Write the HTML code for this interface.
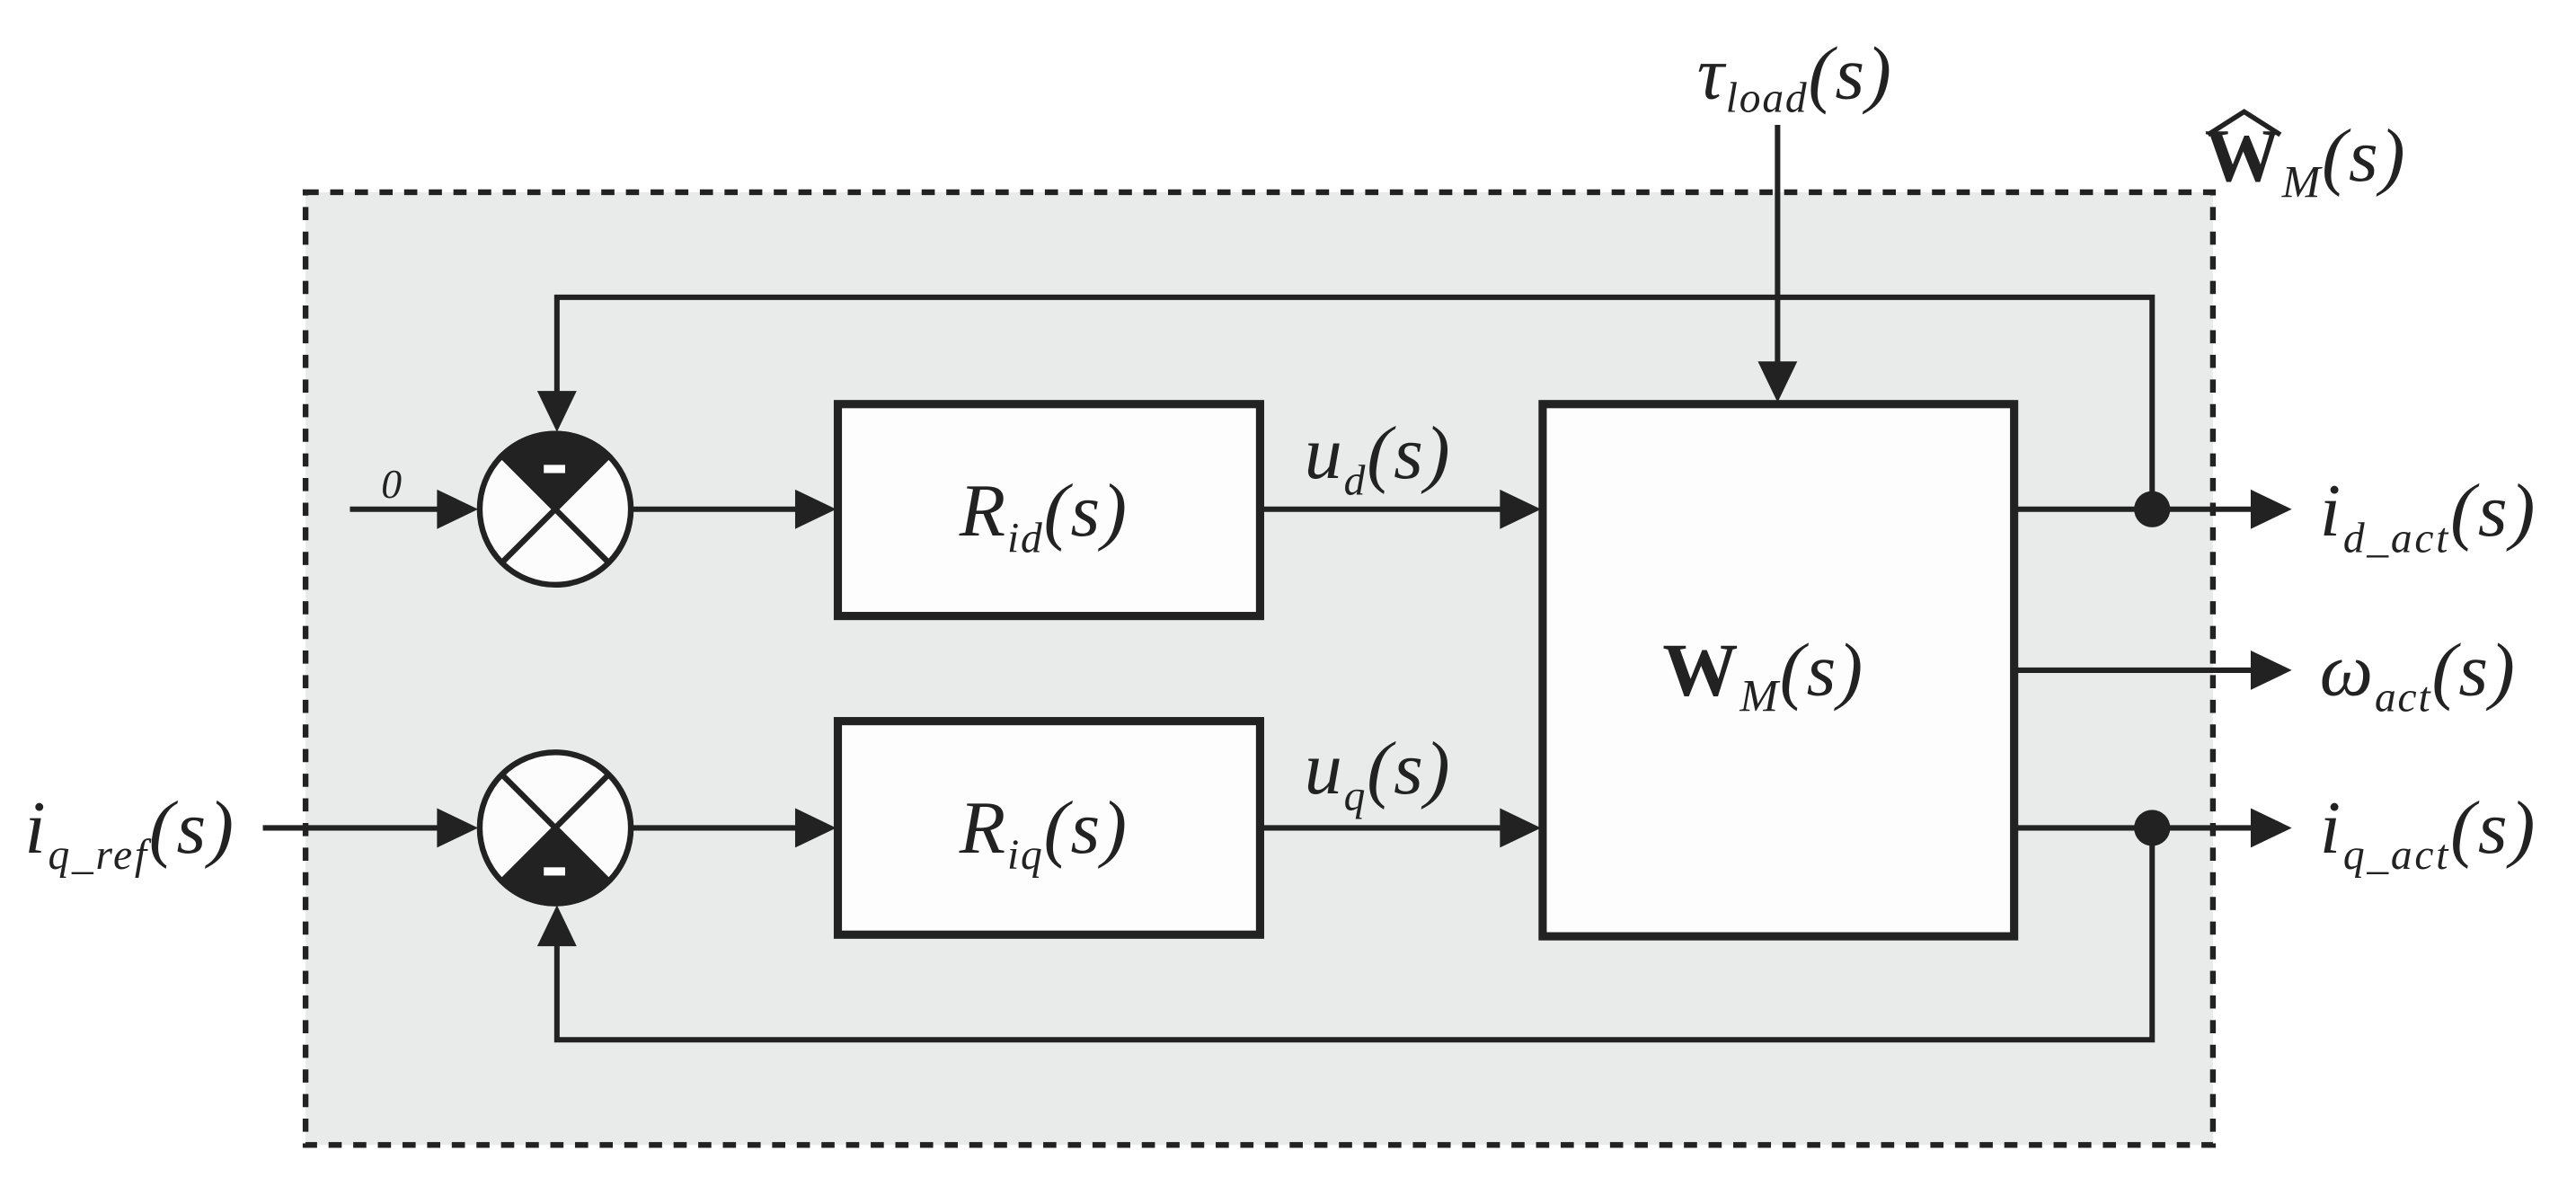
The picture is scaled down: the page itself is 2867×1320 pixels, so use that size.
<!DOCTYPE html>
<html><head><meta charset="utf-8"><style>
html,body{margin:0;padding:0;background:#fff;}
svg{display:block;}
text{font-family:"Liberation Serif",serif;fill:#222;}
</style></head><body>
<svg width="2867" height="1320" viewBox="0 0 1568 722" preserveAspectRatio="none" xmlns="http://www.w3.org/2000/svg">
<rect x="186" y="117" width="1161" height="580" fill="#e9eaea" stroke="#222" stroke-width="3.5" stroke-dasharray="8,7"/>
<g stroke="#222" stroke-width="3.3" fill="none">
<polyline points="339,248 339,181 1310,181 1310,310"/>
<polyline points="339,565 339,633 1310,633 1310,504"/>
<line x1="1082" y1="76" x2="1082" y2="225"/>
<line x1="213" y1="310" x2="272" y2="310"/>
<line x1="160" y1="504" x2="272" y2="504"/>
<line x1="385" y1="310" x2="490" y2="310"/>
<line x1="385" y1="504" x2="490" y2="504"/>
<line x1="768" y1="310" x2="918" y2="310"/>
<line x1="768" y1="504" x2="918" y2="504"/>
<line x1="1227" y1="310" x2="1375" y2="310"/>
<line x1="1227" y1="408" x2="1375" y2="408"/>
<line x1="1227" y1="504" x2="1375" y2="504"/>
</g>
<g fill="#222">
<polygon points="339,263 327,238 351,238"/>
<polygon points="339,551 327,576 351,576"/>
<polygon points="1082,245 1070,220 1094,220"/>
<polygon points="291,310 266,298 266,322"/>
<polygon points="291,504 266,492 266,516"/>
<polygon points="509,310 484,298 484,322"/>
<polygon points="509,504 484,492 484,516"/>
<polygon points="938,310 913,298 913,322"/>
<polygon points="938,504 913,492 913,516"/>
<polygon points="1395,310 1370,298 1370,322"/>
<polygon points="1395,408 1370,396 1370,420"/>
<polygon points="1395,504 1370,492 1370,516"/>
<circle cx="1310" cy="310" r="11"/>
<circle cx="1310" cy="504" r="11"/>
</g>
<g stroke="#222" stroke-width="3.5">
<circle cx="338" cy="310" r="46" fill="#fcfcfc"/>
<path d="M338,310 L305.5,277.5 A46,46 0 0 1 370.5,277.5 Z" fill="#222"/>
<line x1="305.5" y1="342.5" x2="370.5" y2="277.5"/>
<line x1="305.5" y1="277.5" x2="370.5" y2="342.5"/>
<circle cx="338" cy="504" r="46" fill="#fcfcfc"/>
<path d="M338,504 L305.5,536.5 A46,46 0 0 0 370.5,536.5 Z" fill="#222"/>
<line x1="305.5" y1="471.5" x2="370.5" y2="536.5"/>
<line x1="305.5" y1="536.5" x2="370.5" y2="471.5"/>
</g>
<rect x="331" y="283" width="13" height="5" fill="#fff"/>
<rect x="331" y="528" width="13" height="5" fill="#fff"/>
<g fill="#fdfdfd" stroke="#222" stroke-width="5">
<rect x="510" y="246" width="257" height="129"/>
<rect x="510" y="439" width="257" height="130"/>
<rect x="939" y="246" width="287" height="324"/>
</g>
<text x="232" y="303" font-size="25" font-style="italic">0</text>
<text x="584" y="326" font-size="46" font-style="italic" letter-spacing="1">R<tspan font-size="26" dy="10">id</tspan><tspan dy="-10">(s)</tspan></text>
<text x="584" y="519" font-size="46" font-style="italic" letter-spacing="1">R<tspan font-size="26" dy="10">iq</tspan><tspan dy="-10">(s)</tspan></text>
<text x="794" y="291" font-size="46" font-style="italic" letter-spacing="1">u<tspan font-size="26" dy="10">d</tspan><tspan dy="-10">(s)</tspan></text>
<text x="794" y="483" font-size="46" font-style="italic" letter-spacing="1">u<tspan font-size="26" dy="10">q</tspan><tspan dy="-10">(s)</tspan></text>
<text x="1012" y="423" font-size="46" letter-spacing="1"><tspan font-weight="bold">W</tspan><tspan font-size="28" font-style="italic" dy="10">M</tspan><tspan font-style="italic" dy="-10">(s)</tspan></text>
<text x="1033" y="60" font-size="46" font-style="italic" letter-spacing="1">τ<tspan font-size="26" dy="8">load</tspan><tspan dy="-8">(s)</tspan></text>
<text x="1342" y="110" font-size="46" letter-spacing="1"><tspan font-weight="bold">W</tspan><tspan font-size="28" font-style="italic" dy="10">M</tspan><tspan font-style="italic" dy="-10">(s)</tspan></text>
<path d="M1344,82 L1366,68 L1388,82" stroke="#222" stroke-width="3" fill="none"/>
<text x="15" y="519" font-size="46" font-style="italic" letter-spacing="1.5">i<tspan font-size="26" dy="10">q_ref</tspan><tspan dy="-10">(s)</tspan></text>
<text x="1412" y="326" font-size="46" font-style="italic" letter-spacing="1.5">i<tspan font-size="26" dy="10">d_act</tspan><tspan dy="-10">(s)</tspan></text>
<text x="1412" y="423" font-size="46" font-style="italic" letter-spacing="1">ω<tspan font-size="26" dy="10">act</tspan><tspan dy="-10">(s)</tspan></text>
<text x="1412" y="519" font-size="46" font-style="italic" letter-spacing="1.5">i<tspan font-size="26" dy="10">q_act</tspan><tspan dy="-10">(s)</tspan></text>
</svg>
</body></html>
